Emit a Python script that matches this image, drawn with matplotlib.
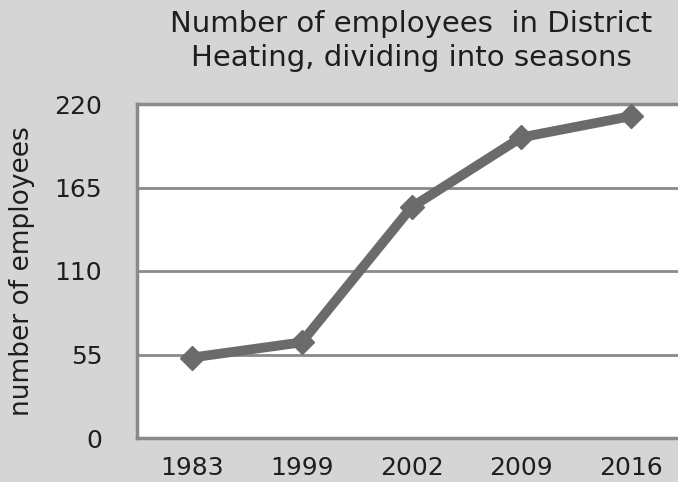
import matplotlib
matplotlib.use("Agg")
import matplotlib.pyplot as plt

years = ["1983", "1999", "2002", "2009", "2016"]
employees = [53, 63, 152, 198, 212]
y_ticks = [0, 55, 110, 165, 220]

title = "Number of employees  in District\nHeating, dividing into seasons"
y_label = "number of employees"

line_color = "#6b6b6b"
grid_color = "#8a8a8a"
text_color = "#1e1e1e"

fig = plt.figure(figsize=(6.78, 4.82), dpi=100, facecolor="#d5d5d5")
ax = fig.add_axes([137 / 678, (482 - 438) / 482, 549 / 678, 334 / 482])
ax.set_facecolor("white")

x = range(len(years))
ax.plot(x, employees, color=line_color, linewidth=7, marker="D",
        markersize=12, markerfacecolor=line_color, markeredgecolor=line_color,
        solid_joinstyle="miter", zorder=3)

ax.set_xlim(-0.5, len(years) - 0.5)
ax.set_ylim(0, 220)
ax.set_xticks(list(x))
ax.set_xticklabels(years)
ax.set_yticks(y_ticks)
ax.yaxis.grid(True, color=grid_color, linewidth=2)
ax.set_axisbelow(True)

for side in ax.spines.values():
    side.set_color(grid_color)
    side.set_linewidth(2.5)

ax.tick_params(axis="both", length=0, labelsize=18, colors=text_color)
ax.tick_params(axis="y", pad=25)
ax.tick_params(axis="x", pad=13)

ax.set_ylabel(y_label, fontsize=19, color=text_color)
ax.yaxis.set_label_coords(-(137 - 35) / 549, 0.5)

fig.text(411 / 678, 1 - 41 / 482, title, ha="center", va="center",
         fontsize=21, color=text_color, linespacing=1.28)

fig.savefig("out.png", dpi=100, facecolor=fig.get_facecolor())
